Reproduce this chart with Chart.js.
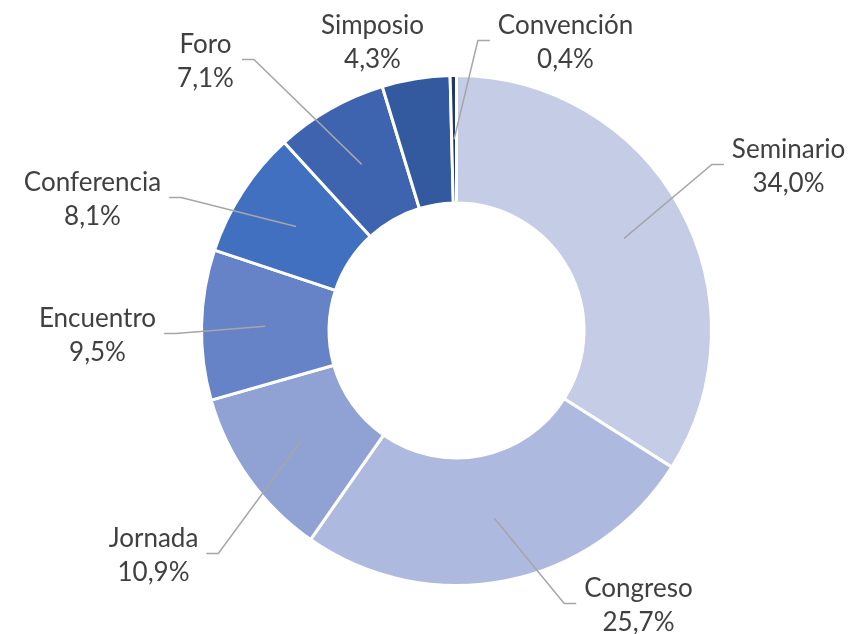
<!DOCTYPE html>
<html>
<head>
<meta charset="utf-8">
<script src="https://cdn.jsdelivr.net/npm/chart.js@4"></script>
<style>
  html, body { margin: 0; padding: 0; background: #fff; }
  #wrap { width: 864px; height: 634px; }
</style>
</head>
<body>
<div id="wrap"><canvas id="myChart" width="864" height="634"></canvas></div>
<script>
// Data
const categories = ["Seminario", "Congreso", "Jornada", "Encuentro", "Conferencia", "Foro", "Simposio", "Convención"];
const percents = [34.0, 25.7, 10.9, 9.5, 8.1, 7.1, 4.3, 0.4];

const sliceColors = ["#C5CCE6", "#ADB9DE", "#8FA2D3", "#6683C8", "#4270C1", "#3E64B0", "#335A9F", "#203864"];

// label centres relative to the donut centre (px), and whether a leader line is drawn
const labelOffsets = [[332, -164], [182, 275], [-303, 225], [-359, 5], [-364, -131], [-251, -269], [-84, -288], [109, -288]];
const showLeader = [true, true, true, true, true, true, false, true];

const labelFont = "26px Lato";
const lineGap = 34;

const labelPlugin = {
  id: "outsideLabels",
  afterDraw(chart) {
    const ctx = chart.ctx;
    const meta = chart.getDatasetMeta(0);
    ctx.save();
    ctx.font = labelFont;
    meta.data.forEach((arc, i) => {
      const p = arc.getProps(["x", "y", "startAngle", "endAngle", "outerRadius", "innerRadius"], true);
      const mid = (p.startAngle + p.endAngle) / 2;
      const rMid = (p.outerRadius + p.innerRadius) / 2;
      const sx = p.x + Math.cos(mid) * rMid;
      const sy = p.y + Math.sin(mid) * rMid;
      const lx = p.x + labelOffsets[i][0];
      const ly = p.y + labelOffsets[i][1];
      const line1 = categories[i];
      const line2 = percents[i].toFixed(1).replace(".", ",") + "%";
      const w = Math.max(ctx.measureText(line1).width, ctx.measureText(line2).width);

      if (showLeader[i]) {
        let e1, e2;
        if (lx > sx) {
          const edge = lx - w / 2;
          e2 = edge - 8; e1 = edge - 20;
        } else {
          const edge = lx + w / 2;
          e2 = edge + 8; e1 = edge + 20;
        }
        ctx.strokeStyle = "#A6A6A6";
        ctx.lineWidth = 1.5;
        ctx.beginPath();
        ctx.moveTo(sx, sy);
        ctx.lineTo(e1, ly - 2);
        ctx.lineTo(e2, ly - 2);
        ctx.stroke();
      }

      ctx.fillStyle = "#404040";
      ctx.textAlign = "center";
      ctx.textBaseline = "middle";
      ctx.fillText(line1, lx, ly - lineGap / 2);
      ctx.fillText(line2, lx, ly + lineGap / 2);
    });
    ctx.restore();
  }
};

new Chart(document.getElementById("myChart"), {
  type: "doughnut",
  data: {
    labels: categories,
    datasets: [{
      data: percents,
      backgroundColor: sliceColors,
      borderColor: "#FFFFFF",
      borderWidth: 3
    }]
  },
  options: {
    responsive: false,
    animation: false,
    cutout: "50%",
    layout: { padding: { top: 74, bottom: 47, left: 200, right: 151 } },
    plugins: {
      legend: { display: false },
      tooltip: { enabled: false }
    }
  },
  plugins: [labelPlugin]
});
</script>
</body>
</html>
